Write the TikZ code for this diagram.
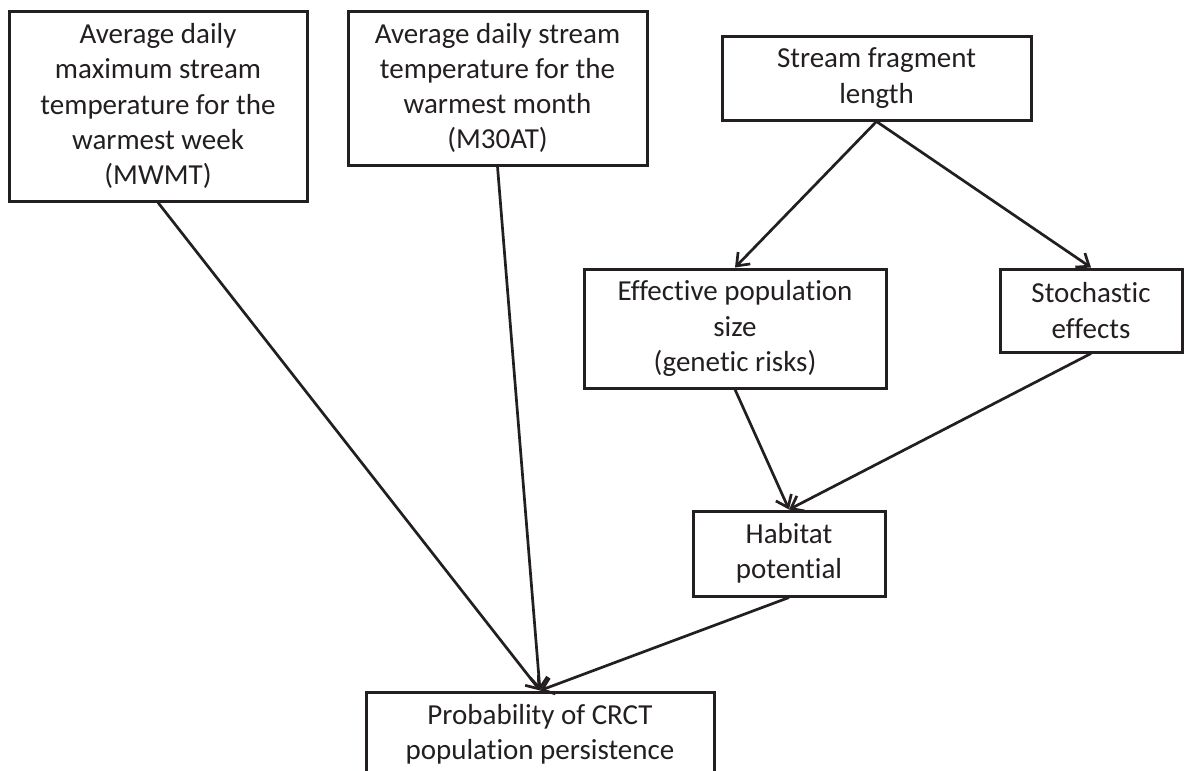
\documentclass[tikz,border=0pt]{standalone}
\usepackage{fontspec}
\setmainfont{Carlito}[Ligatures=NoCommon]
\usepackage{tikz}
\usetikzlibrary{arrows.meta}
\definecolor{ink}{RGB}{35,31,32}

\begin{document}
\begin{tikzpicture}[x=0.5pt, y=-0.5pt,
		box/.style={draw=ink, line width=1.5pt, text=ink, inner sep=0pt, align=center,
			font=\fontsize{14.5}{17.6}\selectfont},
		link/.style={draw=ink, line width=1.35pt, -{Straight Barb[length=5.5pt, width=8.5pt]}}]
		%%%%% START %%%%%
		
		\useasboundingbox (0, 0) rectangle (1184, 771);
		\clip (0, 0) rectangle (1184, 771);
		
		\node[box, minimum width=149pt, minimum height=95pt] (mwmt) at (158, 106)
			{Average daily\\ maximum stream\\ temperature for the\\ warmest week\\ (MWMT)};
		\node[box, minimum width=149.5pt, minimum height=77pt] (mthirty) at (497.5, 88)
			{Average daily stream\\ temperature for the\\ warmest month\\ (M30AT)};
		\node[box, minimum width=154.5pt, minimum height=42pt] (fragment) at (876.5, 78)
			{Stream fragment\\ length};
		
		\node[box, minimum width=151pt, minimum height=59.5pt] (popsize) at (735, 328.5)
			{Effective population\\ size\\ (genetic risks)};
		\node[box, minimum width=91pt, minimum height=41.5pt] (stochastic) at (1091, 310.5)
			{Stochastic\\ effects};
		
		\node[box, minimum width=96pt, minimum height=42.5pt] (habitat) at (789, 553.5)
			{Habitat\\ potential};
		
		\node[box, minimum width=174pt, minimum height=42.5pt] (persist) at (540, 734.5)
			{Probability of CRCT\\ population persistence};
		
		\draw[link] (fragment.south) -- (popsize.north);
		\draw[link] (fragment.south) -- (stochastic.north);
		\draw[link] (popsize.south) -- (habitat.north);
		\draw[link] (stochastic.south) -- (habitat.north);
		
		\draw[link] (mwmt.south) -- (persist.north);
		\draw[link] (mthirty.south) -- (persist.north);
		\draw[link] (habitat.south) -- (persist.north);
		
		%%%%% END %%%%%
	\end{tikzpicture}
\end{document}
